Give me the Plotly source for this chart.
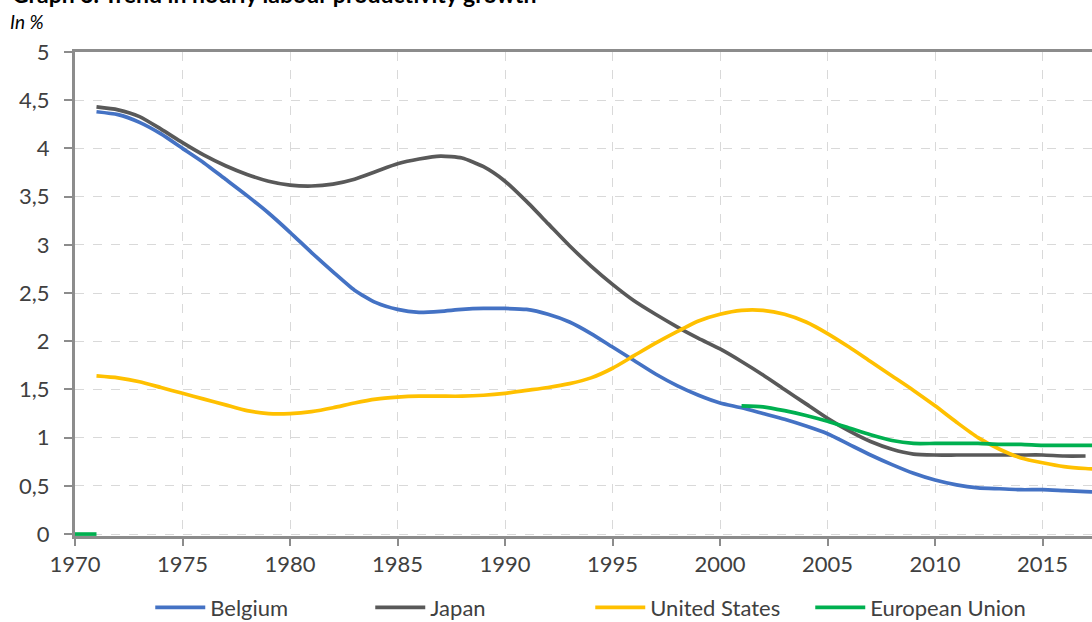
import plotly.graph_objects as go

# Years on the horizontal axis
years = list(range(1970, 2019))

# Trend in hourly labour productivity growth, in %
belgium = [None,
           4.38, 4.35, 4.27, 4.15, 4.00, 3.85, 3.68, 3.51, 3.33, 3.13,
           2.92, 2.72, 2.53, 2.40, 2.33, 2.30, 2.31, 2.33, 2.34, 2.34,
           2.33, 2.28, 2.20, 2.08, 1.94, 1.80, 1.66, 1.54, 1.44, 1.36,
           1.31, 1.25, 1.19, 1.12, 1.04, 0.93, 0.82, 0.72, 0.63, 0.56,
           0.51, 0.48, 0.47, 0.46, 0.46, 0.45, 0.44, 0.43]
japan = [None,
         4.43, 4.40, 4.33, 4.20, 4.06, 3.93, 3.82, 3.73, 3.66, 3.62,
         3.61, 3.63, 3.68, 3.76, 3.84, 3.89, 3.92, 3.90, 3.81, 3.66,
         3.45, 3.22, 2.99, 2.78, 2.59, 2.42, 2.28, 2.15, 2.03, 1.92,
         1.79, 1.65, 1.50, 1.35, 1.20, 1.07, 0.96, 0.88, 0.83, 0.82,
         0.82, 0.82, 0.82, 0.82, 0.82, 0.81, 0.81, None]
united_states = [None,
                 1.64, 1.62, 1.58, 1.52, 1.46, 1.40, 1.34, 1.28, 1.25, 1.25,
                 1.27, 1.31, 1.36, 1.40, 1.42, 1.43, 1.43, 1.43, 1.44, 1.46,
                 1.49, 1.52, 1.56, 1.62, 1.72, 1.85, 1.98, 2.10, 2.21, 2.28,
                 2.32, 2.32, 2.28, 2.20, 2.08, 1.94, 1.79, 1.64, 1.49, 1.33,
                 1.16, 1.00, 0.88, 0.79, 0.74, 0.70, 0.68, 0.67]
european_union = [0.0, 0.0] + [None] * 29 + [
                  1.33, 1.32, 1.28, 1.23, 1.17, 1.10, 1.03, 0.97, 0.94, 0.94,
                  0.94, 0.94, 0.93, 0.93, 0.92, 0.92, 0.92, 0.92]

y_ticks = [0, 0.5, 1, 1.5, 2, 2.5, 3, 3.5, 4, 4.5, 5]
y_tick_text = ["0", "0,5", "1", "1,5", "2", "2,5", "3", "3,5", "4", "4,5", "5"]
x_ticks = list(range(1970, 2020, 5))

series = [
    ("Belgium", belgium, "#4472C4"),
    ("Japan", japan, "#595959"),
    ("United States", united_states, "#FFC000"),
    ("European Union", european_union, "#00B050"),
]

FONT = "Lato"
TEXT = "#404040"
AXIS = "#8C8C8C"
GRID = "#D9D9D9"

fig = go.Figure()
for name, values, color in series:
    fig.add_trace(go.Scatter(
        x=years, y=values, name=name, mode="lines",
        line=dict(color=color, width=3.7, shape="spline", smoothing=0.6),
        connectgaps=False,
    ))

fig.update_layout(
    width=1092, height=622,
    margin=dict(l=75, r=0, t=52, b=86, autoexpand=False),
    paper_bgcolor="white", plot_bgcolor="white",
    font=dict(family=FONT, size=22, color=TEXT),
    showlegend=True,
    legend=dict(
        orientation="h", x=0.074, xanchor="left", y=-0.148, yanchor="middle",
        font=dict(family=FONT, size=22, color=TEXT),
        entrywidth=155, itemwidth=50, traceorder="normal",
    ),
    xaxis=dict(
        range=[1970, 2017.3], tickvals=x_ticks,
        showline=True, linecolor=AXIS, linewidth=3, mirror=True,
        ticks="outside", ticklen=7, tickwidth=2, tickcolor=AXIS,
        showgrid=True, gridcolor=GRID, griddash="dash", gridwidth=1.3,
        zeroline=False, tickfont=dict(size=22, color=TEXT),
        layer="below traces",
    ),
    yaxis=dict(
        # a small margin below zero keeps the line drawn on the zero level whole
        range=[-0.02, 5], tickvals=y_ticks, ticktext=y_tick_text,
        showline=True, linecolor=AXIS, linewidth=3,
        ticks="outside", ticklen=8, tickwidth=2, tickcolor=AXIS,
        ticklabelstandoff=10,
        showgrid=True, gridcolor=GRID, griddash="dash", gridwidth=1.3,
        zeroline=False, tickfont=dict(size=22, color=TEXT),
        layer="below traces",
    ),
    annotations=[
        dict(text="<b>Graph 3. Trend in hourly labour productivity growth</b>",
             xref="paper", yref="paper", x=-0.064, y=1.086,
             xanchor="left", yanchor="bottom", showarrow=False,
             font=dict(family=FONT, size=23, color="black")),
        dict(text="<i>In %</i>",
             xref="paper", yref="paper", x=-0.066, y=1.062,
             xanchor="left", yanchor="middle", showarrow=False,
             font=dict(family=FONT, size=19, color="black")),
    ],
)

fig.write_html("out.html")
